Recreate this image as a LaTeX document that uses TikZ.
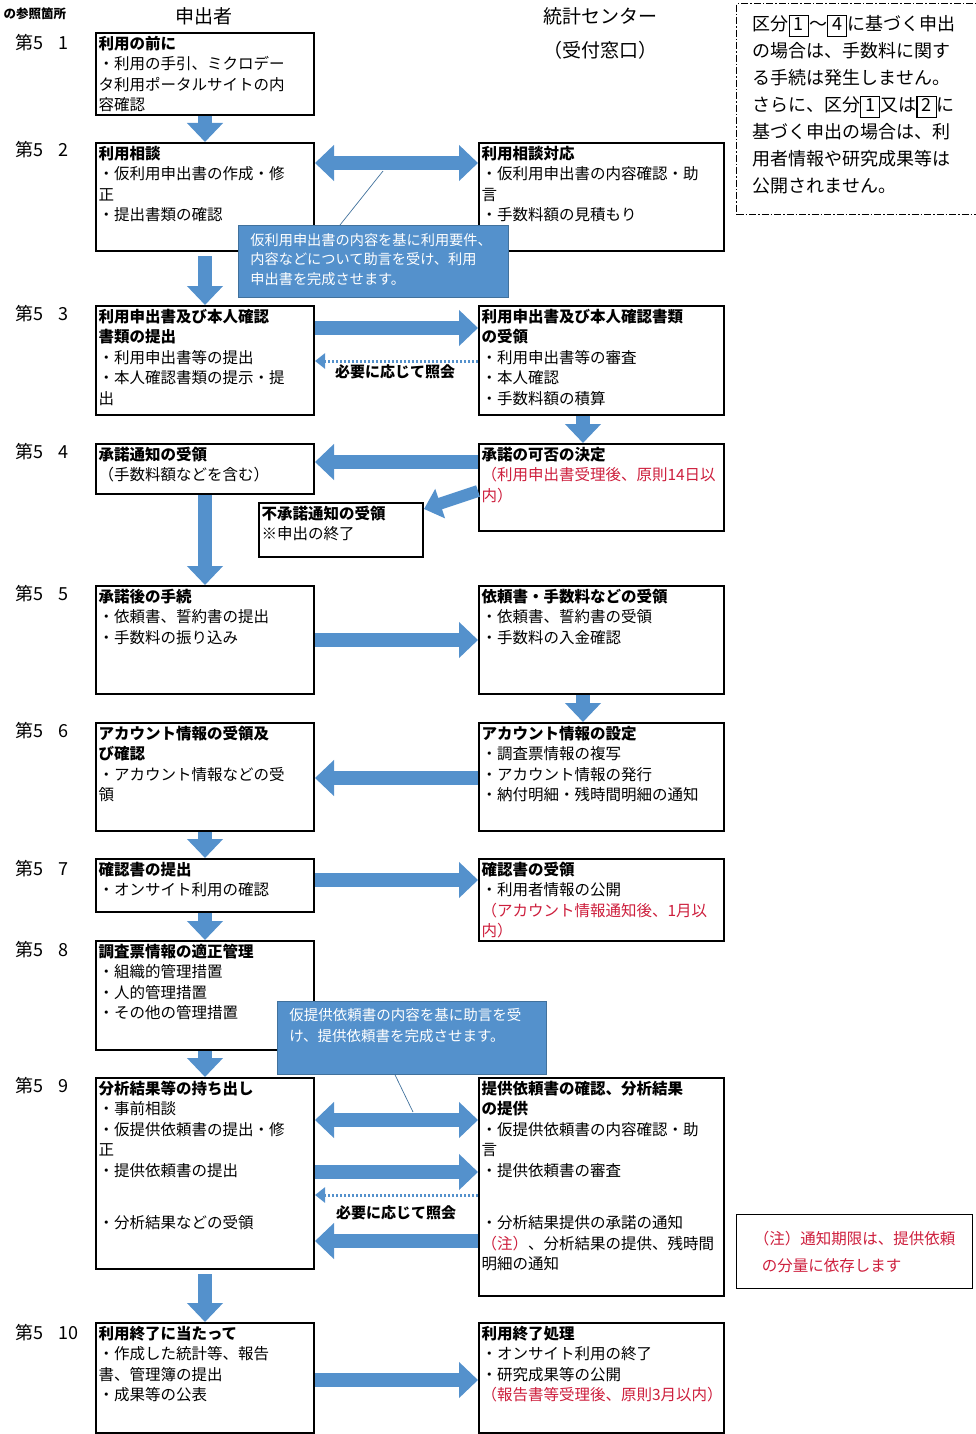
\documentclass[tikz,border=0pt]{standalone}
\usepackage{fontspec}
\setmainfont{Noto Sans CJK JP}
\usetikzlibrary{arrows.meta}
\definecolor{arrowblue}{RGB}{84,145,204}
\definecolor{edgeblue}{RGB}{65,113,156}
\definecolor{notered}{RGB}{205,30,60}
\newcommand{\lcell}[2]{\parbox[t][#1pt][t]{213pt}{\raggedright #2}}
\newcommand{\rcell}[2]{\parbox[t][#1pt][t]{240pt}{\raggedright #2}}
\newcommand{\kbox}[1]{{\setlength{\fboxsep}{1pt}\setlength{\fboxrule}{1.2pt}\fbox{\rule[-4pt]{0pt}{18pt}\,#1\,}}}
\tikzset{
  flowbox/.style={draw, line width=2pt, anchor=north west, inner xsep=2.5pt, inner ysep=3pt,
    font=\fontsize{15.5}{20.5}\selectfont},
  callout/.style={fill=arrowblue, draw=edgeblue, line width=0.8pt, anchor=north west, text=white},
  blockarrow/.style={line width=14pt, arrowblue, -{Triangle[length=19pt,width=35pt]}},
  twinarrow/.style={line width=14pt, arrowblue, {Triangle[length=19pt,width=35pt]}-{Triangle[length=19pt,width=35pt]}},
  slantarrow/.style={line width=12pt, arrowblue, -{Triangle[length=17pt,width=30pt]}},
  dotarrow/.style={line width=3pt, arrowblue, dash pattern=on 2.4pt off 1.6pt, -{Triangle[length=10pt,width=15pt]}},
  leader/.style={edgeblue, line width=0.7pt},
  asklabel/.style={font=\bfseries\fontsize{15}{18}\selectfont},
  seclabel/.style={anchor=west, font=\fontsize{18}{20}\selectfont},
  headtext/.style={font=\fontsize{19}{22}\selectfont},
}
\begin{document}
\begin{tikzpicture}[x=1pt,y=-1pt]
\useasboundingbox (0,0) rectangle (975,1434);
\node[anchor=west, font=\bfseries\fontsize{12.5}{14}\selectfont] (refhead) at (0,14) {の参照箇所};
\node[headtext] (applicant) at (204,16) {申出者};
\node[headtext] (center) at (600,16) {統計センター};
\node[headtext] (window) at (600,50) {（受付窓口）};
\foreach \n/\y in {1/43,2/150,3/314,4/452,5/594,6/731,7/869,8/950,9/1086,10/1333}
  \node[seclabel] (sec\n) at (12,\y) {第5\hspace{15pt}\n};
% note on categories
\node[draw, line width=1.2pt, dash pattern=on 7pt off 2pt on 1.5pt off 2pt, anchor=north west,
  inner xsep=16pt, inner ysep=11pt, font=\fontsize{18}{27}\selectfont] (kubun) at (736,3)
  {\parbox[t][189pt][t]{212pt}{区分\kbox{1}～\kbox{4}に基づく申出\\の場合は、手数料に関す\\る手続は発生しません。\\さらに、区分\kbox{1}又は\kbox{2}に\\基づく申出の場合は、利\\用者情報や研究成果等は\\公開されません。}};
% boxes
\node[flowbox] (l1) at (95,32) {\lcell{76}{\textbf{利用の前に}\\・利用の手引、ミクロデー\\タ利用ポータルサイトの内\\容確認}};
\node[flowbox] (l2) at (95,142) {\lcell{102}{\textbf{利用相談}\\・仮利用申出書の作成・修\\正\\・提出書類の確認}};
\node[flowbox] (r2) at (478,142) {\rcell{102}{\textbf{利用相談対応}\\・仮利用申出書の内容確認・助\\言\\・手数料額の見積もり}};
\node[flowbox] (l3) at (95,305) {\lcell{103}{\textbf{利用申出書及び本人確認}\\\textbf{書類の提出}\\・利用申出書等の提出\\・本人確認書類の提示・提\\出}};
\node[flowbox] (r3) at (478,305) {\rcell{103}{\textbf{利用申出書及び本人確認書類}\\\textbf{の受領}\\・利用申出書等の審査\\・本人確認\\・手数料額の積算}};
\node[flowbox] (l4) at (95,443) {\lcell{44}{\textbf{承諾通知の受領}\\（手数料額などを含む）}};
\node[flowbox] (r4) at (478,443) {\rcell{81}{\textbf{承諾の可否の決定}\\{\color{notered}（利用申出書受理後、原則14日以\\内）}}};
\node[flowbox] (s4) at (258,502) {\parbox[t][48pt][t]{159pt}{\raggedright\textbf{不承諾通知の受領}\\※申出の終了}};
\node[flowbox] (l5) at (95,585) {\lcell{102}{\textbf{承諾後の手続}\\・依頼書、誓約書の提出\\・手数料の振り込み}};
\node[flowbox] (r5) at (478,585) {\rcell{102}{\textbf{依頼書・手数料などの受領}\\・依頼書、誓約書の受領\\・手数料の入金確認}};
\node[flowbox] (l6) at (95,722) {\lcell{102}{\textbf{アカウント情報の受領及}\\\textbf{び確認}\\・アカウント情報などの受\\領}};
\node[flowbox] (r6) at (478,722) {\rcell{102}{\textbf{アカウント情報の設定}\\・調査票情報の複写\\・アカウント情報の発行\\・納付明細・残時間明細の通知}};
\node[flowbox] (l7) at (95,858) {\lcell{47}{\textbf{確認書の提出}\\・オンサイト利用の確認}};
\node[flowbox] (r7) at (478,858) {\rcell{76}{\textbf{確認書の受領}\\・利用者情報の公開\\{\color{notered}（アカウント情報通知後、1月以\\内）}}};
\node[flowbox] (l8) at (95,940) {\lcell{103}{\textbf{調査票情報の適正管理}\\・組織的管理措置\\・人的管理措置\\・その他の管理措置}};
\node[flowbox] (l9) at (95,1077) {\lcell{185}{\textbf{分析結果等の持ち出し}\\・事前相談\\・仮提供依頼書の提出・修\\正\\・提供依頼書の提出\\[32pt]・分析結果などの受領}};
\node[flowbox] (r9) at (478,1077) {\rcell{212}{\textbf{提供依頼書の確認、分析結果}\\\textbf{の提供}\\・仮提供依頼書の内容確認・助\\言\\・提供依頼書の審査\\[32pt]・分析結果提供の承諾の通知\\{\color{notered}（注）}、分析結果の提供、残時間\\明細の通知}};
\node[flowbox] (l10) at (95,1322) {\lcell{104}{\textbf{利用終了に当たって}\\・作成した統計等、報告\\書、管理簿の提出\\・成果等の公表}};
\node[flowbox] (r10) at (478,1322) {\rcell{104}{\textbf{利用終了処理}\\・オンサイト利用の終了\\・研究成果等の公開\\{\color{notered}（報告書等受理後、原則3月以内）}}};
\node[draw, line width=1.4pt, anchor=north west, minimum width=236, minimum height=74, align=left,
  text=notered, font=\fontsize{15.5}{27}\selectfont] (limit) at (736,1214)
  {（注）通知期限は、提供依頼\\\hspace{8pt}の分量に依存します};
% arrows
\draw[blockarrow] (l1.south) -- (l2.north);
\draw[twinarrow] ([yshift=-21]l2.north east) -- ([yshift=-21]r2.north west);
\draw[blockarrow] ([yshift=-4]l2.south) -- (l3.north);
\draw[blockarrow] ([yshift=-23]l3.north east) -- ([yshift=-23]r3.north west);
\draw[dotarrow] ([yshift=-56]r3.north west) -- ([yshift=-56]l3.north east);
\node[asklabel] (ask3) at (395,372) {必要に応じて照会};
\draw[blockarrow] ([xshift=105]r3.south west) -- ([xshift=105]r4.north west);
\draw[blockarrow] ([yshift=-19]r4.north west) -- ([yshift=-19]l4.north east);
\draw[slantarrow] ([yshift=-48]r4.north west) -- ([yshift=-7]s4.north east);
\draw[blockarrow] (l4.south) -- (l5.north);
\draw[blockarrow] ([yshift=-55]l5.north east) -- ([yshift=-55]r5.north west);
\draw[blockarrow] ([xshift=105]r5.south west) -- ([xshift=105]r6.north west);
\draw[blockarrow] ([yshift=-56]r6.north west) -- ([yshift=-56]l6.north east);
\draw[blockarrow] (l6.south) -- (l7.north);
\draw[blockarrow] ([yshift=-22]l7.north east) -- ([yshift=-22]r7.north west);
\draw[blockarrow] (l7.south) -- (l8.north);
\draw[blockarrow] (l8.south) -- (l9.north);
\draw[twinarrow] ([yshift=-43]l9.north east) -- ([yshift=-43]r9.north west);
\draw[blockarrow] ([yshift=-95]l9.north east) -- ([yshift=-95]r9.north west);
\draw[dotarrow] ([yshift=-118]r9.north west) -- ([yshift=-118]l9.north east);
\node[asklabel] (ask9) at (396,1213) {必要に応じて照会};
\draw[blockarrow] ([yshift=-164]r9.north west) -- ([yshift=-164]l9.north east);
\draw[blockarrow] ([yshift=-4]l9.south) -- (l10.north);
\draw[blockarrow] ([yshift=-58]l10.north east) -- ([yshift=-58]r10.north west);
% callouts
\node[callout, font=\fontsize{14.2}{19.5}\selectfont, inner xsep=12pt, inner ysep=8pt] (co1) at (238,225)
  {\parbox[t][56pt][t]{246pt}{仮利用申出書の内容を基に利用要件、\\内容などについて助言を受け、利用\\申出書を完成させます。}};
\coordinate (tip1) at (383,171);
\draw[leader] ([xshift=102]co1.north west) -- (tip1);
\node[callout, font=\fontsize{14.5}{21}\selectfont, inner xsep=12pt, inner ysep=7pt] (co2) at (277,1001)
  {\parbox[t][59pt][t]{245pt}{仮提供依頼書の内容を基に助言を受\\け、提供依頼書を完成させます。}};
\coordinate (tip2) at (413,1112);
\draw[leader] ([xshift=118]co2.south west) -- (tip2);
\end{tikzpicture}
\end{document}
